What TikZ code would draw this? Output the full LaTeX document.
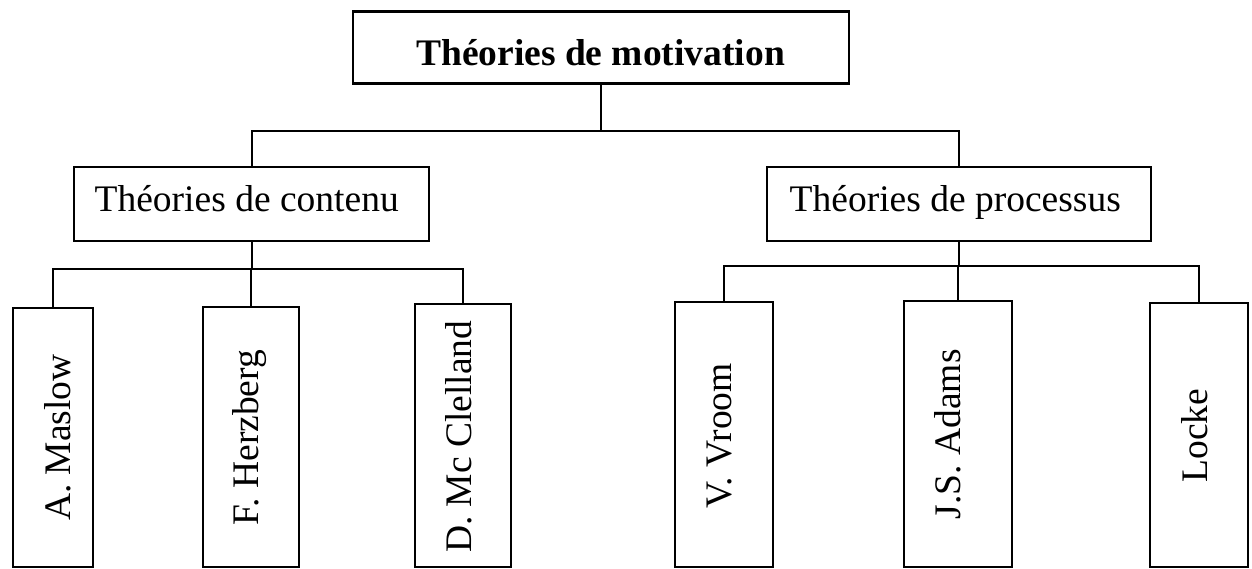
\documentclass[tikz,border=0pt]{standalone}
\usepackage{fontspec}
\setmainfont{Liberation Serif}
\begin{document}
\begin{tikzpicture}[x=1pt,y=-1pt,
  box/.style={draw, line width=2.1pt, inner sep=0pt, outer sep=0pt},
  lbl/.style={inner sep=0pt, font=\fontsize{37.5}{44}\selectfont},
  vlbl/.style={lbl, rotate=90, anchor=base},
  link/.style={line width=2pt}]
\useasboundingbox (0,0) rectangle (1252,568);

% root and its two branches
\node[box, minimum width=496pt, minimum height=72pt] (top) at (600.8,47.5) {};
\node[lbl, anchor=base, font=\fontsize{37.5}{44}\selectfont\bfseries] (topt) at (600.5,65) {Théories de motivation};

\node[box, minimum width=355pt, minimum height=73.4pt] (contenu) at (251.7,204) {};
\node[lbl, anchor=base] (contenut) at (246.7,211.7) {Théories de contenu};

\node[box, minimum width=384pt, minimum height=73.4pt] (processus) at (958.6,204) {};
\node[lbl, anchor=base] (processust) at (955.3,211.7) {Théories de processus};

% leaves of the content theories
\node[box, minimum width=80.3pt, minimum height=259pt] (maslow) at (52.9,437.5) {};
\node[vlbl] (maslowt) at (70,437.5) {A. Maslow};
\node[box, minimum width=96.3pt, minimum height=260.3pt] (herzberg) at (251.2,436.9) {};
\node[vlbl] (herzbergt) at (258.3,437.5) {F. Herzberg};
\node[box, minimum width=96pt, minimum height=262.7pt] (mcclelland) at (463,435.7) {};
\node[vlbl] (mcclellandt) at (471.7,436.7) {D. Mc Clelland};

% leaves of the process theories
\node[box, minimum width=98pt, minimum height=264.7pt] (vroom) at (724,434.7) {};
\node[vlbl] (vroomt) at (731.8,435.8) {V. Vroom};
\node[box, minimum width=108pt, minimum height=266.3pt] (adams) at (958,433.9) {};
\node[vlbl] (adamst) at (960.7,434.2) {J.S. Adams};
\node[box, minimum width=98pt, minimum height=264.3pt] (locke) at (1199,434.9) {};
\node[vlbl] (locket) at (1207.7,435.8) {Locke};

% junction points of the tree
\coordinate (j0) at (600.8,130.7);
\coordinate (j1) at (251.7,269);
\coordinate (j2) at (958.6,266);

% connectors
\draw[link] (top.south) -- (j0);
\draw[link] (contenu.north) |- (j0) -| (processus.north);

\draw[link] (contenu.south) -- (j1);
\draw[link] (maslow.north) |- (j1) -| (mcclelland.north);
\draw[link] (herzberg.north) -- (herzberg.north |- j1);

\draw[link] (processus.south) -- (j2);
\draw[link] (vroom.north) |- (j2) -| (locke.north);
\draw[link] (adams.north) -- (adams.north |- j2);
\end{tikzpicture}
\end{document}
